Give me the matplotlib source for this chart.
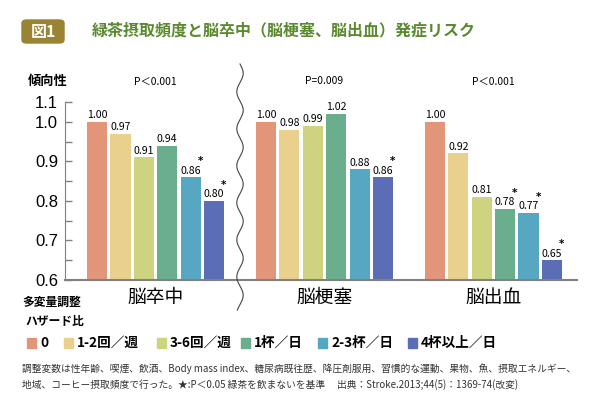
"""
Green tea intake and stroke risk (hazard ratio bars)
"""

import numpy as np
import matplotlib
matplotlib.use("Agg")
import matplotlib.pyplot as plt
from matplotlib.patches import FancyBboxPatch, Rectangle
from matplotlib.lines import Line2D

plt.rcParams['font.family'] = ['Noto Sans CJK JP', 'DejaVu Sans']

# data
groups = ['脳卒中', '脳梗塞', '脳出血']
pvals = ['P＜0.001', 'P=0.009', 'P＜0.001']
levels = ['0', '1-2回／週', '3-6回／週', '1杯／日', '2-3杯／日', '4杯以上／日']
stroke = [1.00, 0.97, 0.91, 0.94, 0.86, 0.80]
infarct = [1.00, 0.98, 0.99, 1.02, 0.88, 0.86]
hemorrhage = [1.00, 0.92, 0.81, 0.78, 0.77, 0.65]
stars = [[4, 5], [5], [3, 4, 5]]
series = [stroke, infarct, hemorrhage]

colors = ['#E29578', '#E9D08C', '#CDD37F', '#6BAE8E', '#58A7C2', '#5B6DB4']
green = '#5A8A2E'
gold = '#9A8332'
grey = '#808080'
narrow = ['Liberation Sans Narrow', 'Noto Sans CJK JP']

gap = 7.22
bw = 0.86

fig = plt.figure(figsize=(6, 3.96), dpi=100)
ax = fig.add_axes([65/600, 1-280/396, (577-65)/600, (280-102)/396])

for g, vals in enumerate(series):
    xc = g * gap
    xs = xc + np.arange(len(vals)) - 2.5
    ax.bar(xs, np.array(vals) - 0.6, bw, bottom=0.6, color=colors, zorder=2)
    for i, (x, v) in enumerate(zip(xs, vals)):
        ax.text(x, v + 0.004, f'{v:.2f}', ha='center', va='bottom',
                fontsize=7.6, family=narrow)
        if i in stars[g]:
            ax.text(x + 0.42, v + 0.028, '*', ha='center', va='bottom',
                    fontsize=7.5, family='DejaVu Sans', fontweight='bold')
    ax.text(xc, 1.102, pvals[g], ha='center', va='center', fontsize=7.4,
            family=narrow)
    ax.text(xc, 0.555, groups[g], ha='center', va='center', fontsize=13.5)

ax.set_xlim(-3.87, 2 * gap + 3.57)
ax.set_ylim(0.6, 1.05)
ax.set_yticks([0.6, 0.7, 0.8, 0.9, 1.0, 1.05])
ax.set_yticklabels(['0.6', '0.7', '0.8', '0.9', '1.0', '1.1'],
                   family=['Liberation Sans', 'DejaVu Sans'], fontsize=12)
ax.set_yticks([0.65, 0.75, 0.85, 0.95], minor=True)
ax.tick_params(axis='y', which='both', direction='in', length=5, width=1,
               color=grey, pad=5)
ax.set_xticks([])
for s in ['top', 'right']:
    ax.spines[s].set_visible(False)
ax.spines['left'].set_color(grey)
ax.spines['bottom'].set_color(grey)
ax.spines['bottom'].set_linewidth(1.5)

# wavy break line
wy = np.linspace(64, 310, 400)
wx = 240 + 3.2 * np.sin((wy - 64) / 37 * 2 * np.pi)
fig.add_artist(Line2D(wx / 600, 1 - wy / 396, color='#444444', lw=0.8,
                      transform=fig.transFigure))

# title
fig.patches.append(FancyBboxPatch((22/600, 1-43/396), 42/600, 23/396,
                                  boxstyle='round,pad=0,rounding_size=0.008',
                                  transform=fig.transFigure, color=gold))
fig.text(43/600, 1-31.5/396, '図1', color='white', fontsize=11.5,
         fontweight='bold', ha='center', va='center')
fig.text(92/600, 1-30/396, '緑茶摂取頻度と脳卒中（脳梗塞、脳出血）発症リスク',
         color=green, fontsize=11.5, fontweight='bold', ha='left', va='center')

fig.text(28/600, 1-81/396, '傾向性', fontsize=9.5, fontweight='bold',
         ha='left', va='center')
fig.text(22/600, 1-302/396, '多変量調整', fontsize=8.5, fontweight='bold',
         ha='left', va='center')
fig.text(25/600, 1-321/396, 'ハザード比', fontsize=8.5, fontweight='bold',
         ha='left', va='center')

# legend
lx = [27, 64, 157, 241, 318, 408]
for x, lab, c in zip(lx, levels, colors):
    fig.patches.append(Rectangle((x/600, 1-348/396), 9/600, 10/396,
                                 transform=fig.transFigure, color=c))
    fig.text((x + 13)/600, 1-343/396, lab, fontsize=9.8, fontweight='bold',
             ha='left', va='center')

note1 = ('調整変数は性年齢、喫煙、飲酒、Body mass index、糖尿病既往歴、降圧剤服用、'
         '習慣的な運動、果物、魚、摂取エネルギー、')
note2 = ('地域、コーヒー摂取頻度で行った。★:P＜0.05 緑茶を飲まないを基準　 '
         '出典：Stroke.2013;44(5)：1369-74(改変)')
fig.text(22/600, 1-369/396, note1, fontsize=7.0, color='#333333',
         ha='left', va='center')
fig.text(22/600, 1-385/396, note2, fontsize=7.0, color='#333333',
         ha='left', va='center')

fig.savefig('out.png', dpi=100)
